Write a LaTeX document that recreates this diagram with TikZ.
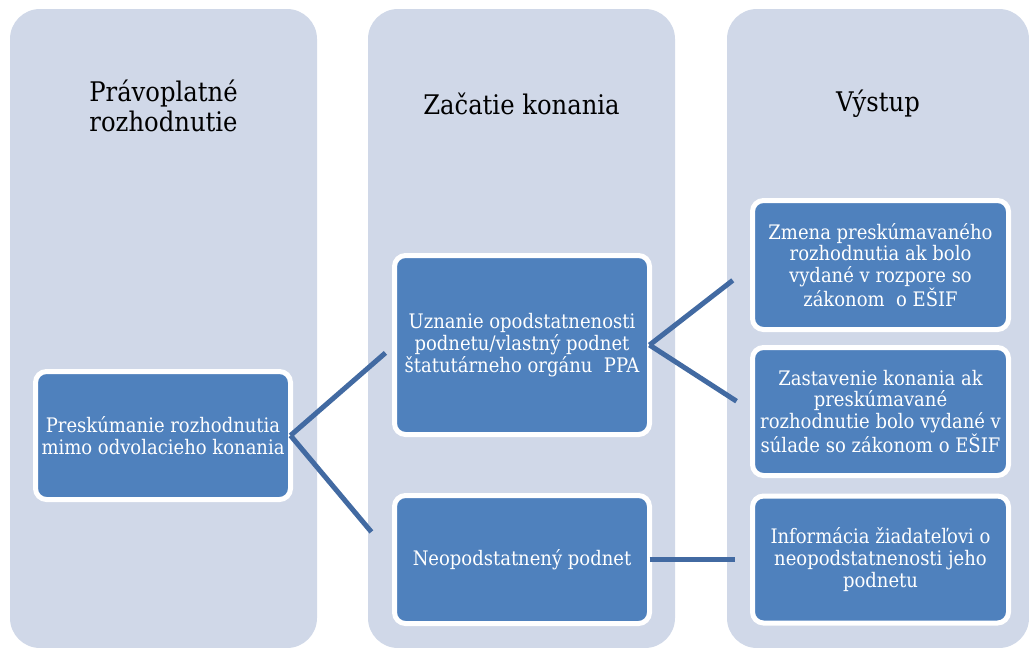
\documentclass[tikz,border=0pt]{standalone}
\usepackage{fontspec}
\setmainfont{DejaVu Serif Condensed}
\definecolor{colfill}{RGB}{208,216,232}
\definecolor{boxfill}{RGB}{79,129,189}
\definecolor{linkcol}{RGB}{66,106,162}

\begin{document}
\begin{tikzpicture}[x=1pt,y=-1pt,
	column/.style={fill=colfill, rounded corners=30pt, inner sep=0pt, minimum height=639pt},
	title/.style={align=center, text=black, font=\fontsize{27}{30}\selectfont},
	stepbox/.style={draw=white, line width=5pt, fill=boxfill, rounded corners=11pt, outer sep=0pt,
		text=white, align=center, inner sep=0pt, font=\fontsize{20}{21.7}\selectfont},
	link/.style={draw=linkcol, line width=5pt}]
					\useasboundingbox (0,0) rectangle (1029,648);
					% columns
					\node[column, minimum width=307pt] (col1) at (163.5, 328.5) {};
					\node[column, minimum width=307pt] (col2) at (521.5, 328.5) {};
					\node[column, minimum width=302pt] (col3) at (878, 328.5) {};
					\node[title] (t1) at (163.5, 106) {Právoplatné\\rozhodnutie};
					\node[title] (t2) at (521.5, 104) {Začatie konania};
					\node[title] (t3) at (878, 104) {Výstup};
					% boxes
					\node[stepbox, minimum width=255pt, minimum height=128pt] (prez) at (163, 435.5) {Preskúmanie rozhodnutia\\mimo odvolacieho konania};
					\node[stepbox, minimum width=255pt, minimum height=179pt] (uzn) at (522, 345) {Uznanie opodstatnenosti\\podnetu/vlastný podnet\\štatutárneho orgánu~ PPA};
					\node[stepbox, minimum width=255pt, minimum height=128pt] (neo) at (522, 559.5) {Neopodstatnený podnet};
					\node[stepbox, minimum width=256pt, minimum height=129pt] (zmena) at (880.5, 265) {Zmena preskúmavaného\\rozhodnutia ak bolo\\vydané v rozpore so\\zákonom~ o EŠIF};
					\node[stepbox, minimum width=256pt, minimum height=128pt] (zast) at (880.5, 411.5) {Zastavenie konania ak\\preskúmavané\\rozhodnutie bolo vydané v\\súlade so zákonom o EŠIF};
					\node[stepbox, minimum width=256pt, minimum height=127pt] (info) at (880.5, 559.5) {Informácia žiadateľovi o\\neopodstatnenosti jeho\\podnetu};
					% links
					\draw[link, shorten >=12pt] (prez.east) -- (uzn.west);
					\draw[link, shorten >=36pt] (prez.east) -- (neo.west);
					\draw[link, shorten >=25pt] (uzn.east) -- (zmena.west);
					\draw[link, shorten >=19pt] (uzn.east) -- (zast.west);
					\draw[link, shorten >=17.5pt] (neo.east) -- (info.west);
				\end{tikzpicture}
\end{document}
